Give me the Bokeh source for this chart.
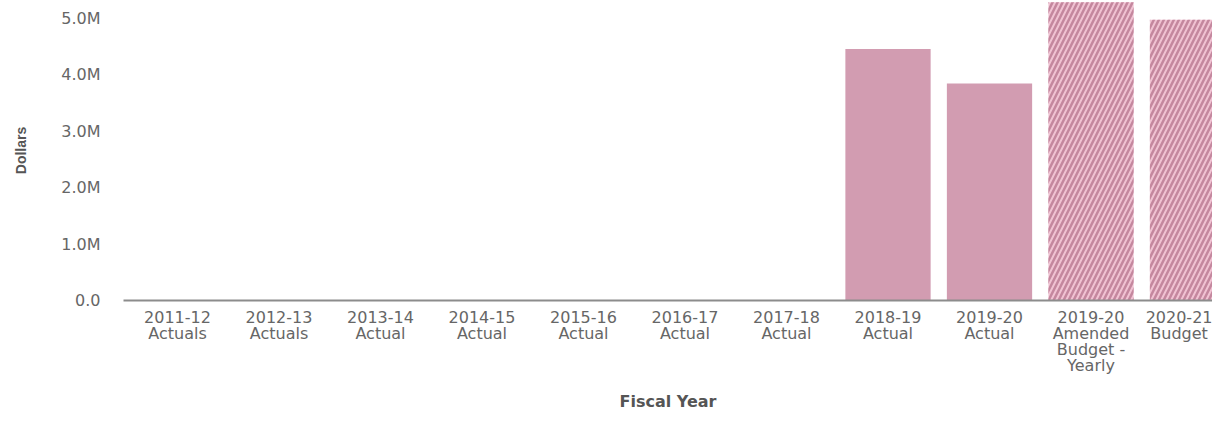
from bokeh.plotting import figure
from bokeh.models import ColumnDataSource, Range1d, FixedTicker
from bokeh.embed import file_html
from bokeh.resources import INLINE

# ---- data ----
categories = [
    "2011-12\nActuals", "2012-13\nActuals", "2013-14\nActual", "2014-15\nActual",
    "2015-16\nActual", "2016-17\nActual", "2017-18\nActual", "2018-19\nActual",
    "2019-20\nActual", "2019-20\nAmended\nBudget -\nYearly", "2020-21\nBudget",
]
actual_values = [0, 0, 0, 0, 0, 0, 0, 4.45e6, 3.84e6, None, None]
budget_values = [None, None, None, None, None, None, None, None, None, 5.28e6, 4.97e6]
y_tick_values = [0, 1e6, 2e6, 3e6, 4e6, 5e6]
y_tick_labels = ["0.0", "1.0M", "2.0M", "3.0M", "4.0M", "5.0M"]

idx = list(range(len(categories)))
act_x = [i for i, v in zip(idx, actual_values) if v is not None]
act_top = [v for v in actual_values if v is not None]
bud_x = [i for i, v in zip(idx, budget_values) if v is not None]
bud_top = [v for v in budget_values if v is not None]

p = figure(
    width=1212, height=413,
    x_range=Range1d(-0.532, 10.197),
    y_range=Range1d(0, 5.31e6),
    output_backend="svg", toolbar_location=None,
    min_border_left=123, min_border_right=0, min_border_top=0, min_border_bottom=113,
)
p.outline_line_color = None
p.background_fill_color = "white"
p.border_fill_color = "white"
p.xgrid.grid_line_color = None
p.ygrid.grid_line_color = None

p.vbar(x="x", top="top", width=0.84, bottom=0,
       source=ColumnDataSource(dict(x=act_x, top=act_top)),
       fill_color="#d29cb1", line_color=None)
p.vbar(x="x", top="top", width=0.84, bottom=0,
       source=ColumnDataSource(dict(x=bud_x, top=bud_top)),
       fill_color="#f0c2d2", line_color=None,
       hatch_pattern="/", hatch_color="#c4879e", hatch_scale=10, hatch_weight=2.5)

# x axis
xa = p.xaxis[0]
xa.ticker = FixedTicker(ticks=idx)
xa.major_label_overrides = {i: c for i, c in zip(idx, categories)}
xa.axis_line_color = "#8c8c8c"
xa.axis_line_width = 2
xa.major_tick_line_color = None
xa.minor_tick_line_color = None
xa.major_tick_out = 0
xa.major_label_standoff = 7
xa.major_label_text_font = "DejaVu Sans"
xa.major_label_text_font_size = "16px"
xa.major_label_text_color = "#666666"
xa.major_label_text_line_height = 0.85
xa.axis_label = "Fiscal Year"
xa.axis_label_text_font = "DejaVu Sans"
xa.axis_label_text_font_size = "16px"
xa.axis_label_text_font_style = "bold"
xa.axis_label_text_color = "#555555"
xa.axis_label_standoff = 14

# y axis
ya = p.yaxis[0]
ya.ticker = FixedTicker(ticks=y_tick_values)
ya.major_label_overrides = {v: l for v, l in zip(y_tick_values, y_tick_labels)}
ya.axis_line_color = None
ya.major_tick_line_color = None
ya.minor_tick_line_color = None
ya.major_tick_out = 0
ya.major_label_standoff = 23
ya.major_label_text_font = "DejaVu Sans"
ya.major_label_text_font_size = "16px"
ya.major_label_text_color = "#666666"
ya.axis_label = "Dollars"
ya.axis_label_text_font = "Liberation Sans"
ya.axis_label_text_font_size = "14px"
ya.axis_label_text_font_style = "bold"
ya.axis_label_text_color = "#555555"
ya.axis_label_standoff = 29

open("out.html", "w").write(file_html(p, INLINE))
